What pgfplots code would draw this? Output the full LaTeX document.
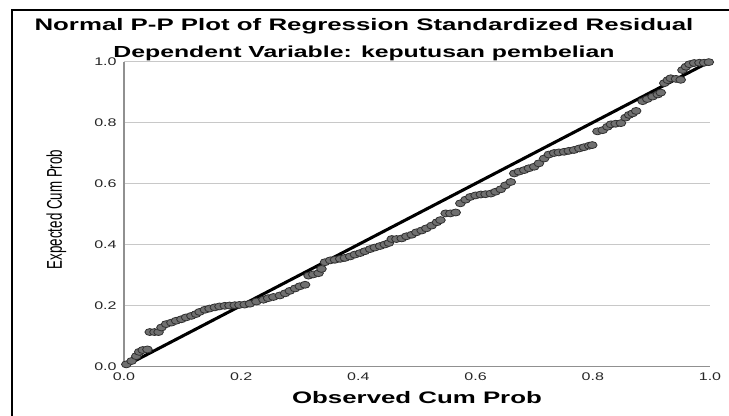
\documentclass[border=0pt]{standalone}
\usepackage{pgfplots}
\pgfplotsset{compat=1.18}
\usepackage{graphicx}
\usepackage{fontspec}
\setmainfont{Liberation Sans}
\newfontfamily\wideT[FakeStretch=1.55]{Liberation Sans}
\newfontfamily\wideN[FakeStretch=1.45]{Liberation Sans}
\definecolor{ptfill}{HTML}{707070}
\definecolor{ptedge}{HTML}{303030}
\definecolor{gridc}{HTML}{C8C8C8}
\definecolor{axc}{HTML}{909090}
\begin{document}
\begin{tikzpicture}
\path[use as bounding box] (0,0) rectangle (546.75pt,-311.25pt);
\draw[line width=1.5pt] (9pt,-320pt) -- (9pt,-7.5pt) -- (560pt,-7.5pt);
\node[anchor=base, font=\wideT\bfseries\fontsize{12.5}{15}\selectfont] at (273pt,-22.5pt) {Normal P-P Plot of Regression Standardized Residual};
\node[anchor=base, font=\wideT\bfseries\fontsize{12}{15}\selectfont] at (273pt,-43.2pt) {Dependent Variable: keputusan pembelian};
\begin{axis}[
  at={(93pt,-274.875pt)}, anchor=south west,
  scale only axis, width=439.5pt, height=228.75pt,
  xmin=0, xmax=1, ymin=0, ymax=1,
  axis x line*=bottom, axis y line*=left,
  axis line style={axc, line width=0.8pt, -},
  xtick={0,0.2,0.4,0.6,0.8,1},
  ytick={0,0.2,0.4,0.6,0.8,1},
  xticklabels={0.0,0.2,0.4,0.6,0.8,1.0},
  yticklabels={0.0,0.2,0.4,0.6,0.8,1.0},
  major tick length=0pt,
  ymajorgrids, grid style={gridc, line width=0.8pt},
  tick label style={font=\wideN\fontsize{8.3}{9}\selectfont, text=black!85},
  yticklabel style={xshift=-2pt},
  xticklabel style={yshift=-1pt},
  xlabel={Observed Cum Prob},
  xlabel style={at={(axis description cs:0.5,0)}, anchor=base, yshift=-27.4pt, font=\wideT\bfseries\fontsize{12.5}{15}\selectfont},
  ylabel={\scalebox{1}[1.6]{Expected Cum Prob}},
  ylabel style={at={(axis description cs:-0.106,0.515)}, anchor=base, font=\fontsize{10}{12}\selectfont},
  clip=false,
]
\addplot[only marks, mark=*, mark size=2.6pt, mark options={xscale=1.4, fill=ptfill, draw=ptedge, line width=0.6pt}] table {
x y
0.004 0.007
0.013 0.018
0.021 0.034
0.026 0.048
0.032 0.054
0.040 0.056
0.044 0.113
0.052 0.113
0.059 0.113
0.064 0.128
0.072 0.139
0.081 0.144
0.089 0.150
0.098 0.155
0.106 0.161
0.115 0.166
0.123 0.172
0.129 0.179
0.138 0.186
0.146 0.190
0.155 0.194
0.163 0.197
0.172 0.199
0.180 0.200
0.189 0.201
0.197 0.202
0.206 0.203
0.215 0.206
0.226 0.213
0.238 0.219
0.246 0.224
0.255 0.228
0.266 0.233
0.275 0.240
0.283 0.248
0.292 0.256
0.300 0.263
0.309 0.268
0.315 0.298
0.323 0.302
0.332 0.306
0.337 0.320
0.343 0.342
0.352 0.348
0.360 0.350
0.369 0.353
0.377 0.356
0.386 0.361
0.394 0.367
0.403 0.372
0.411 0.378
0.420 0.385
0.428 0.390
0.437 0.395
0.445 0.400
0.452 0.405
0.457 0.418
0.465 0.418
0.474 0.420
0.482 0.427
0.491 0.432
0.499 0.440
0.508 0.446
0.516 0.453
0.525 0.462
0.534 0.473
0.540 0.480
0.549 0.502
0.557 0.502
0.566 0.505
0.574 0.535
0.583 0.547
0.591 0.556
0.600 0.561
0.609 0.564
0.617 0.565
0.626 0.567
0.634 0.573
0.643 0.581
0.651 0.594
0.660 0.605
0.666 0.633
0.674 0.639
0.683 0.644
0.691 0.650
0.700 0.655
0.708 0.666
0.717 0.682
0.725 0.695
0.734 0.700
0.742 0.702
0.751 0.704
0.759 0.707
0.768 0.710
0.777 0.715
0.785 0.719
0.794 0.724
0.799 0.726
0.808 0.771
0.817 0.775
0.825 0.786
0.831 0.794
0.839 0.796
0.848 0.798
0.856 0.816
0.862 0.825
0.868 0.830
0.874 0.838
0.885 0.870
0.893 0.877
0.902 0.885
0.911 0.892
0.916 0.898
0.922 0.929
0.928 0.939
0.933 0.945
0.942 0.943
0.950 0.940
0.953 0.972
0.959 0.983
0.965 0.991
0.973 0.995
0.982 0.996
0.990 0.996
0.998 0.998
};
\addplot[black, line width=2.3pt] coordinates {(0,0) (1,1)};
\end{axis}
\end{tikzpicture}
\end{document}
